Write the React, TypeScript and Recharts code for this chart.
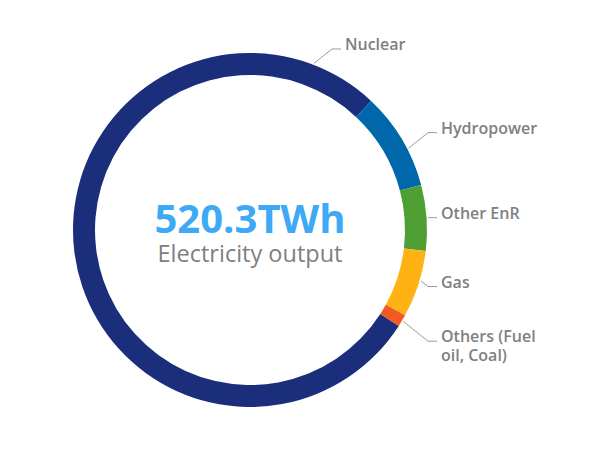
import React from 'react';
import { PieChart, Pie, Cell } from 'recharts';

const sources = ['Nuclear', 'Hydropower', 'Other EnR', 'Gas', 'Others (Fuel oil, Coal)'];
const shares = [77.8, 8.9, 6.0, 6.1, 1.1];
const colors = ['#1b2e7c', '#0068aa', '#4f9e33', '#ffb213', '#f15a22'];
const labelLines = [['Nuclear'], ['Hydropower'], ['Other EnR'], ['Gas'], ['Others (Fuel', 'oil, Coal)']];

const data = sources.map((name, i) => ({ name, value: shares[i] }));

const RAD = Math.PI / 180;
const FONT = '"Open Sans", "Noto Sans", sans-serif';

// a few connectors don't start at the middle of their arc
const labelAngleOverride: Record<number, number> = { 0: 69, 1: 27.3, 3: -16.6 };

const renderLabel = (props: any) => {
  const { cx, cy, outerRadius, midAngle, index } = props;
  const angle = labelAngleOverride[index] ?? midAngle;
  const r = outerRadius + 1.5;
  const sx = cx + r * Math.cos(-angle * RAD);
  const sy = cy + r * Math.sin(-angle * RAD);
  // nuclear sits up top, so its elbow is short; the rest line up on the right
  const elbowX = index === 0 ? sx + 18 : cx + outerRadius + 1;
  const dir = sy < cy ? -1 : 1;
  const ey = sy + dir * Math.max(0, elbowX - sx) * 0.8;
  const endX = elbowX + 9;
  return (
    <g key={`lbl-${index}`}>
      <polyline
        points={`${sx},${sy} ${Math.max(elbowX, sx)},${ey} ${endX},${ey}`}
        fill="none"
        stroke="#9a9a9a"
        strokeWidth={1}
      />
      {labelLines[index].map((t, j) => (
        <text
          key={j}
          x={endX + 4}
          y={ey + 1 + j * 19}
          fill="#808080"
          fontSize={16}
          fontWeight={600}
          fontFamily={FONT}
        >
          {t}
        </text>
      ))}
    </g>
  );
};

export default function App() {
  return (
    <div style={{ position: 'absolute', left: 0, top: 0, width: 616, height: 450, background: '#fff' }}>
      <PieChart width={616} height={450} margin={{ top: 0, right: 0, bottom: 0, left: 0 }}>
        <Pie
          data={data}
          dataKey="value"
          nameKey="name"
          cx={250}
          cy={230}
          innerRadius={155}
          outerRadius={177}
          startAngle={-32.8}
          endAngle={-392.8}
          stroke="none"
          label={renderLabel}
          labelLine={false}
          isAnimationActive={false}
        >
          {data.map((d, i) => (
            <Cell key={d.name} fill={colors[i]} />
          ))}
        </Pie>
        <text x={250} y={233} textAnchor="middle" fill="#3ea9f5" fontSize={40} fontWeight={700} fontFamily={FONT}>
          520.3TWh
        </text>
        <text x={250} y={261.5} textAnchor="middle" fill="#808080" fontSize={23.5} fontFamily={FONT}>
          Electricity output
        </text>
      </PieChart>
    </div>
  );
}
